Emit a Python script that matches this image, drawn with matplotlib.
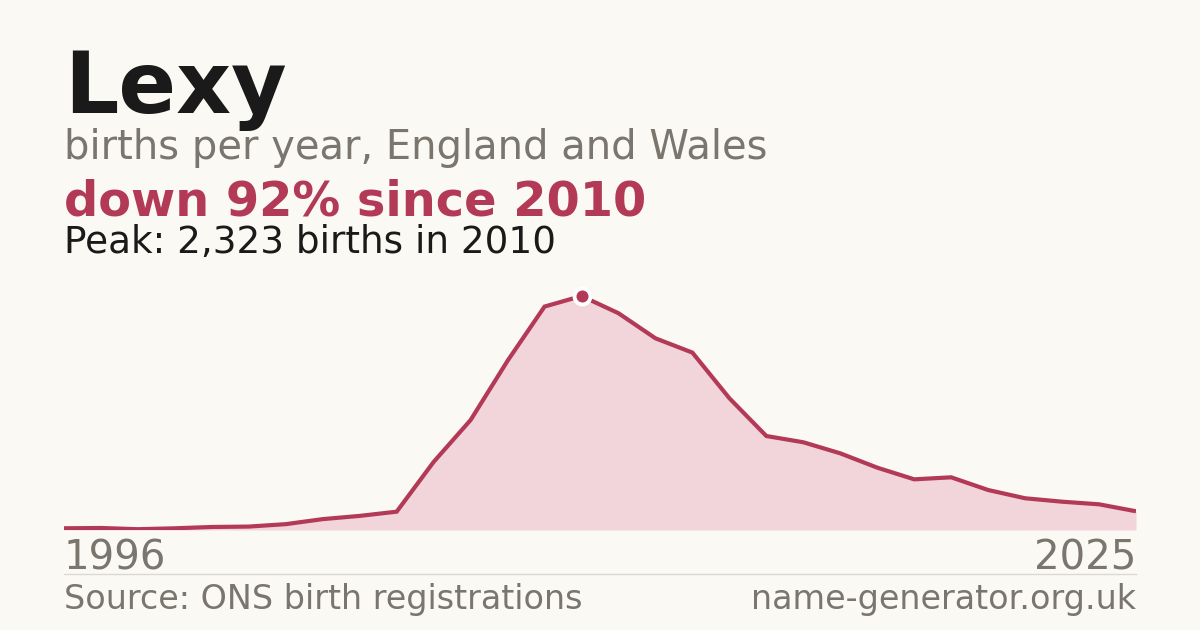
import numpy as np
import matplotlib.pyplot as plt

years = list(range(1996, 2026))
births = [17, 20, 8, 17, 30, 34, 58, 108, 140, 182,
          676, 1092, 1680, 2218, 2323, 2152, 1903, 1761, 1308, 933,
          871, 761, 619, 503, 523, 397, 315, 281, 255, 186]
name = "Lexy"
subtitle = "births per year, England and Wales"
change_text = "down 92% since 2010"
peak_text = "Peak: 2,323 births in 2010"
source_text = "Source: ONS birth registrations"
site_text = "name-generator.org.uk"

bg = "#faf9f4"
red = "#b33a57"
pink = "#f1d5db"
grey = "#7a756d"
dark = "#1a1a1a"

W, H = 1200, 630
fig = plt.figure(figsize=(12, 6.3), dpi=100, facecolor=bg)

# chart area: x 64..1136 px, baseline at y=530, peak at y=296
ax = fig.add_axes([64 / W, 1 - 530 / H, (1136 - 64) / W, 234 / H])
ax.set_facecolor(bg)
ax.fill_between(years, births, 0, color=pink, linewidth=0)
ax.plot(years, births, color=red, linewidth=3.0, solid_joinstyle="miter",
        solid_capstyle="butt")
peak_i = int(np.argmax(births))
ax.plot(years[peak_i], births[peak_i], "o", color=red, markersize=11.5,
        markeredgecolor="white", markeredgewidth=2.8, clip_on=False, zorder=5)
ax.set_xlim(years[0], years[-1])
ax.set_ylim(0, max(births))
ax.axis("off")

def ftext(x, y, s, **kw):
    fig.text(x / W, 1 - y / H, s, va="baseline", **kw)

ftext(64, 113, name, fontsize=61.4, fontweight="bold", color=dark)
ftext(64, 159, subtitle, fontsize=28.8, color=grey)
ftext(64, 215, change_text, fontsize=34.5, fontweight="bold", color=red)
ftext(64, 253, peak_text, fontsize=26.9, color=dark)
ftext(64, 570, str(years[0]), fontsize=29, color=grey)
ftext(1136, 570, str(years[-1]), fontsize=29, color=grey, ha="right")
ftext(64, 609, source_text, fontsize=24, color=grey)
ftext(1136, 609, site_text, fontsize=24, color=grey, ha="right")

fig.add_artist(plt.Line2D([64 / W, 1136 / W], [1 - 574 / H, 1 - 574 / H],
                          color="#dcd9d2", linewidth=1))

fig.savefig("out.png", dpi=100, facecolor=bg)
